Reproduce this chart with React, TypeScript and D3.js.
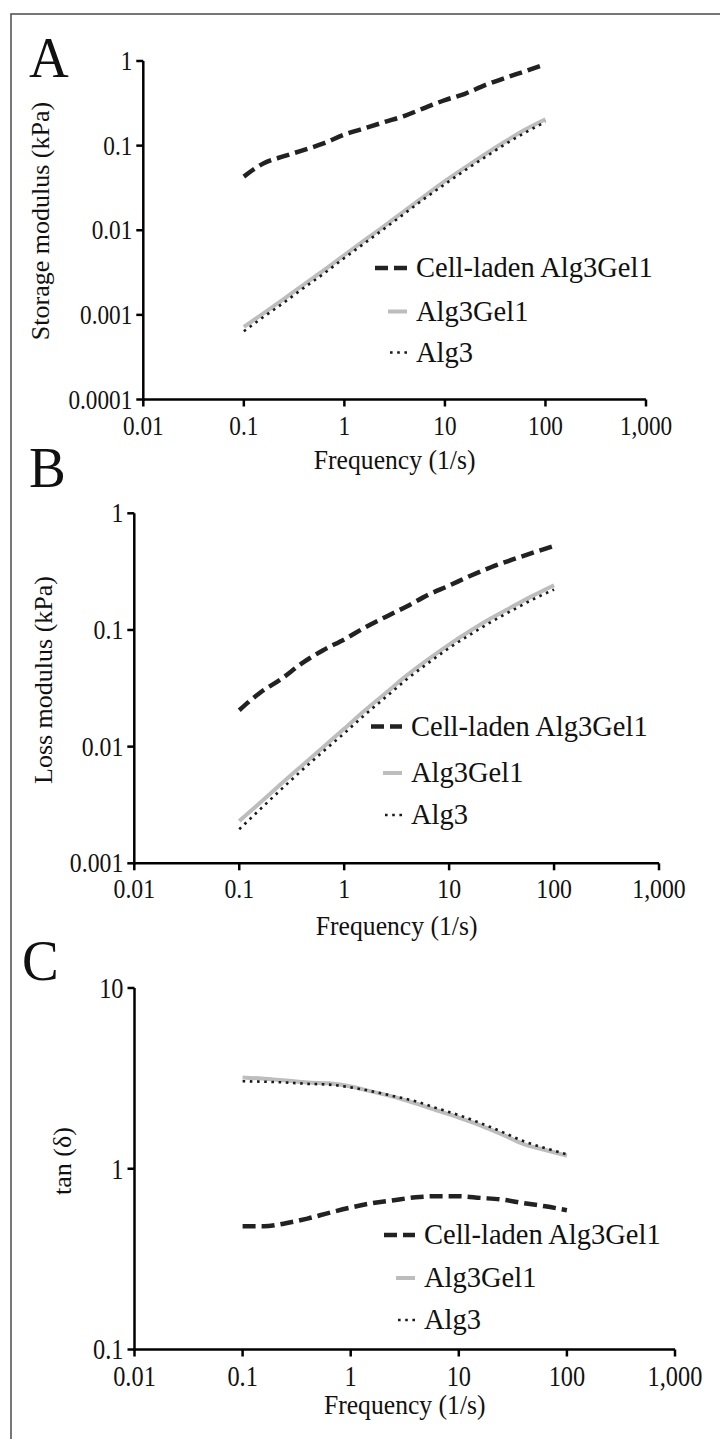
import React from "react";
import * as d3 from "d3";

const freq = [0.1, 0.158, 0.251, 0.398, 0.631, 1, 1.58, 2.51, 3.98, 6.31, 10, 15.8, 25.1, 39.8, 63.1, 100];

const storageCell = [0.043, 0.062, 0.075, 0.089, 0.107, 0.135, 0.16, 0.19, 0.225, 0.28, 0.345, 0.41, 0.52, 0.63, 0.76, 0.92];
const storageGel = [0.00072, 0.00105, 0.00155, 0.0023, 0.0034, 0.0051, 0.0076, 0.0113, 0.017, 0.0255, 0.038, 0.055, 0.079, 0.112, 0.155, 0.205];
const storageAlg = [0.00064, 0.00095, 0.0014, 0.0021, 0.0031, 0.0047, 0.007, 0.0105, 0.0158, 0.0238, 0.035, 0.051, 0.073, 0.104, 0.143, 0.19];

const lossCell = [0.0205, 0.029, 0.038, 0.052, 0.067, 0.083, 0.105, 0.13, 0.16, 0.2, 0.24, 0.29, 0.345, 0.4, 0.46, 0.525];
const lossGel = [0.0023, 0.0033, 0.0048, 0.0069, 0.0099, 0.0142, 0.0205, 0.029, 0.041, 0.056, 0.075, 0.098, 0.126, 0.158, 0.197, 0.242];
const lossAlg = [0.00196, 0.0029, 0.0043, 0.0063, 0.0091, 0.013, 0.0188, 0.0267, 0.038, 0.052, 0.07, 0.091, 0.117, 0.147, 0.183, 0.222];

const tanCell = [0.48, 0.48, 0.5, 0.53, 0.57, 0.61, 0.645, 0.67, 0.695, 0.705, 0.705, 0.69, 0.675, 0.645, 0.62, 0.59];
const tanGel = [3.2, 3.15, 3.08, 3.0, 2.97, 2.85, 2.67, 2.5, 2.3, 2.1, 1.92, 1.74, 1.55, 1.37, 1.27, 1.18];
const tanAlg = [3.05, 3.03, 3.0, 2.95, 2.92, 2.82, 2.68, 2.52, 2.36, 2.16, 1.98, 1.79, 1.6, 1.42, 1.3, 1.2];

const xTicks = [0.01, 0.1, 1, 10, 100, 1000];
const xTickLabels = ["0.01", "0.1", "1", "10", "100", "1,000"];
const yTicksA = [0.0001, 0.001, 0.01, 0.1, 1];
const yTickLabelsA = ["0.0001", "0.001", "0.01", "0.1", "1"];
const yTicksB = [0.001, 0.01, 0.1, 1];
const yTickLabelsB = ["0.001", "0.01", "0.1", "1"];
const yTicksC = [0.1, 1, 10];
const yTickLabelsC = ["0.1", "1", "10"];
const legendLabels = ["Cell-laden Alg3Gel1", "Alg3Gel1", "Alg3"];
const xTitle = "Frequency (1/s)";

const FONT = '"Liberation Serif", "Times New Roman", Times, "DejaVu Serif", serif';

const styles = [
  { stroke: "#222", width: 4.5, dash: "13,6" },
  { stroke: "#bdbdbd", width: 4, dash: "" },
  { stroke: "#1a1a1a", width: 2.6, dash: "2.6,4.6" },
];

type TProps = {
  x: number;
  y: number;
  size: number;
  sx?: number;
  anchor?: "start" | "middle" | "end";
  dy?: string;
  rotate?: number;
  children: React.ReactNode;
};

function T({ x, y, size, sx = 1, anchor = "start", dy, rotate = 0, children }: TProps) {
  return (
    <text
      transform={`translate(${x},${y}) rotate(${rotate}) scale(${sx},1)`}
      style={{ fontFamily: FONT, fontSize: size + "px" }}
      textAnchor={anchor}
      dy={dy}
      fill="#111"
    >
      {children}
    </text>
  );
}

type PanelProps = {
  letter: string;
  letterX: number;
  letterY: number;
  xRange: [number, number];
  yRange: [number, number];
  yDomain: [number, number];
  yTicks: number[];
  yTickLabels: string[];
  yTitle: string;
  yTitleX: number;
  yTitleY: number;
  xTickBase: number;
  xTitleBase: number;
  tickFont: number;
  tickSx: number;
  series: number[][];
  legSymEnd: number;
  legText: number;
  legRows: number[];
  legLens: number[];
};

function Panel(p: PanelProps) {
  const x = d3.scaleLog().domain([0.01, 1000]).range(p.xRange);
  const y = d3.scaleLog().domain(p.yDomain).range(p.yRange);
  const line = d3
    .line<number>()
    .x((_, i) => x(freq[i]))
    .y((v) => y(v))
    .curve(d3.curveMonotoneX);
  const axisY = p.yRange[0];
  const axisX = p.xRange[0];
  const order = [1, 2, 0];
  return (
    <g>
      <T x={p.letterX} y={p.letterY} size={58} sx={0.95}>
        {p.letter}
      </T>
      {order.map((si) => (
        <path
          key={si}
          d={line(p.series[si]) || ""}
          fill="none"
          stroke={styles[si].stroke}
          strokeWidth={styles[si].width}
          strokeDasharray={styles[si].dash || undefined}
        />
      ))}
      <line x1={axisX} x2={axisX} y1={p.yRange[1]} y2={axisY + 1.2} stroke="#000" strokeWidth={2.5} />
      <line x1={axisX - 1.2} x2={p.xRange[1]} y1={axisY} y2={axisY} stroke="#000" strokeWidth={2.5} />
      {xTicks.map((t, i) => (
        <g key={"xt" + i}>
          <line x1={x(t)} x2={x(t)} y1={axisY} y2={axisY + 7} stroke="#000" strokeWidth={2.5} />
          <T x={x(t)} y={p.xTickBase} size={p.tickFont} sx={p.tickSx} anchor="middle">
            {xTickLabels[i]}
          </T>
        </g>
      ))}
      {p.yTicks.map((t, i) => (
        <g key={"yt" + i}>
          <line x1={axisX - 7} x2={axisX} y1={y(t)} y2={y(t)} stroke="#000" strokeWidth={2.5} />
          <T x={axisX - 11} y={y(t)} dy="0.34em" size={p.tickFont} sx={p.tickSx} anchor="end">
            {p.yTickLabels[i]}
          </T>
        </g>
      ))}
      <T x={(p.xRange[0] + p.xRange[1]) / 2} y={p.xTitleBase} size={27} sx={0.95} anchor="middle">
        {xTitle}
      </T>
      <T x={p.yTitleX} y={p.yTitleY} size={26} anchor="middle" dy="0.3em" rotate={-90}>
        {p.yTitle}
      </T>
      {legendLabels.map((lab, i) => (
        <g key={"lg" + i}>
          <line
            x1={p.legSymEnd - p.legLens[i]}
            x2={p.legSymEnd}
            y1={p.legRows[i]}
            y2={p.legRows[i]}
            stroke={styles[i].stroke}
            strokeWidth={styles[i].width}
            strokeDasharray={styles[i].dash || undefined}
          />
          <T x={p.legText} y={p.legRows[i]} dy="0.33em" size={28.5}>
            {lab}
          </T>
        </g>
      ))}
    </g>
  );
}

export default function App() {
  return (
    <svg
      width={720}
      height={1439}
      viewBox="0 0 720 1439"
      style={{ position: "absolute", left: 0, top: 0, background: "#fff", fontFamily: FONT }}
    >
      <rect x={0} y={0} width={720} height={1439} fill="#fff" />
      <rect x={11} y={14} width={760} height={1500} fill="none" stroke="#555" strokeWidth={1.6} />
      <Panel
        letter="A"
        letterX={29}
        letterY={77}
        xRange={[143.3, 646]}
        yRange={[399.5, 61]}
        yDomain={[0.0001, 1]}
        yTicks={yTicksA}
        yTickLabels={yTickLabelsA}
        yTitle="Storage modulus (kPa)"
        yTitleX={41}
        yTitleY={221}
        xTickBase={435}
        xTitleBase={469}
        tickFont={27}
        tickSx={0.86}
        series={[storageCell, storageGel, storageAlg]}
        legSymEnd={407}
        legText={416}
        legRows={[268, 311.5, 352.5]}
        legLens={[32, 19, 17]}
      />
      <Panel
        letter="B"
        letterX={29}
        letterY={487}
        xRange={[134.3, 659]}
        yRange={[863.3, 513.3]}
        yDomain={[0.001, 1]}
        yTicks={yTicksB}
        yTickLabels={yTickLabelsB}
        yTitle="Loss modulus (kPa)"
        yTitleX={44}
        yTitleY={680}
        xTickBase={898}
        xTitleBase={935}
        tickFont={27}
        tickSx={0.88}
        series={[lossCell, lossGel, lossAlg]}
        legSymEnd={402}
        legText={411}
        legRows={[726.5, 773, 815]}
        legLens={[31, 19, 17]}
      />
      <Panel
        letter="C"
        letterX={22}
        letterY={980}
        xRange={[134.5, 675]}
        yRange={[1349.5, 988]}
        yDomain={[0.1, 10]}
        yTicks={yTicksC}
        yTickLabels={yTickLabelsC}
        yTitle="tan (δ)"
        yTitleX={63}
        yTitleY={1161}
        xTickBase={1386}
        xTitleBase={1414}
        tickFont={29}
        tickSx={0.84}
        series={[tanCell, tanGel, tanAlg]}
        legSymEnd={415}
        legText={424}
        legRows={[1235, 1278, 1320]}
        legLens={[31, 19, 17]}
      />
    </svg>
  );
}
